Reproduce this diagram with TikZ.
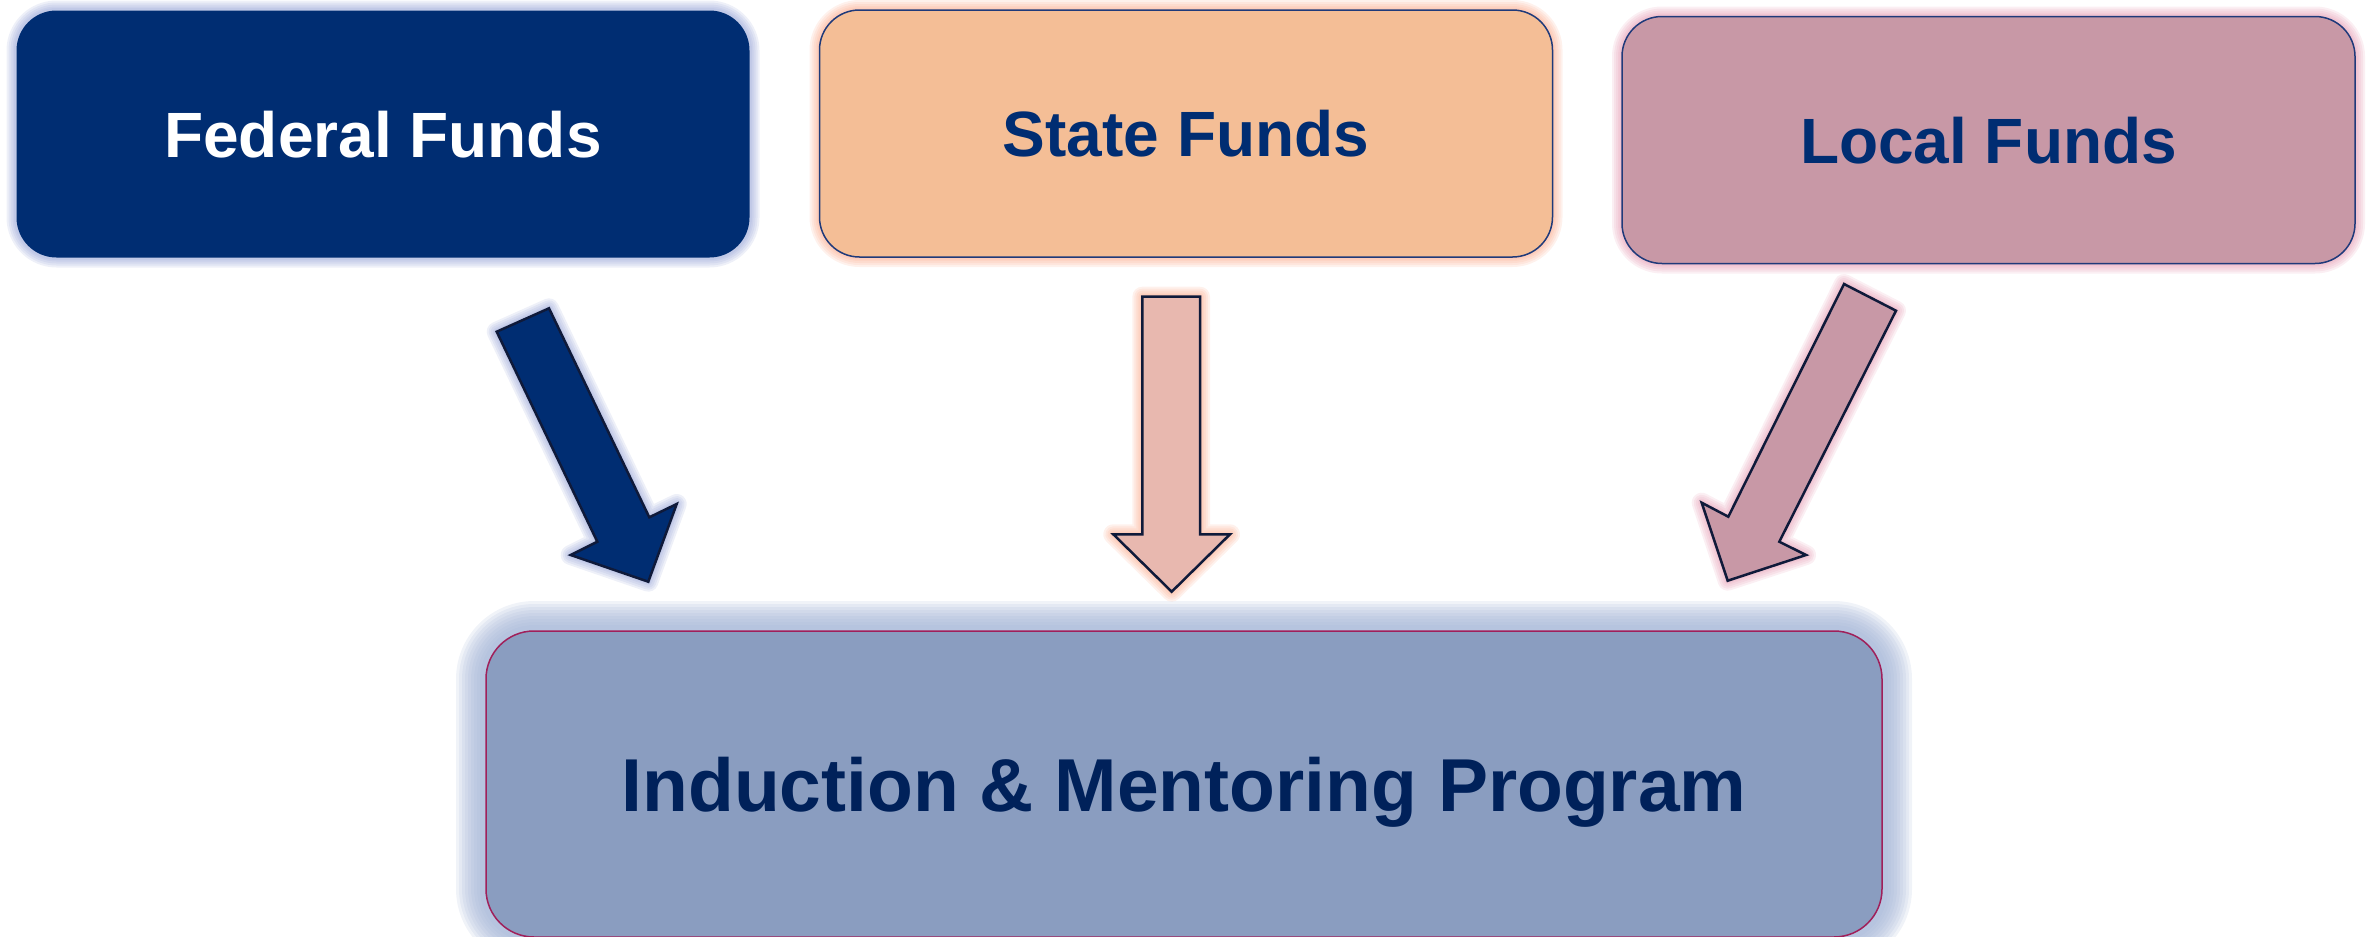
\documentclass[tikz,border=0pt]{standalone}
\usepackage{fontspec}
\setmainfont{Liberation Sans}
\definecolor{navy}{HTML}{002D72}
\definecolor{fedglow}{HTML}{95A2D6}
\definecolor{statefill}{HTML}{F4BE96}
\definecolor{stateglow}{HTML}{FBA98A}
\definecolor{localfill}{HTML}{C898A6}
\definecolor{localglow}{HTML}{E59AB2}
\definecolor{progfill}{HTML}{8A9DC0}
\definecolor{progglow}{HTML}{A3B4D6}
\definecolor{progborder}{HTML}{A0205A}
\definecolor{progtext}{HTML}{00215A}
\definecolor{arrowstate}{HTML}{E8B8AF}
\definecolor{outline}{HTML}{0F1A3A}
\definecolor{boxline}{HTML}{1F3A7A}
\tikzset{
  gl/.style 2 args={preaction={draw=#1, line width=#2, opacity=0.16, line join=round}},
  glow/.style={gl={#1}{20pt}, gl={#1}{16pt}, gl={#1}{12pt}, gl={#1}{8pt}, gl={#1}{5pt}},
  bigglow/.style={gl={#1}{60pt}, gl={#1}{54pt}, gl={#1}{48pt}, gl={#1}{42pt},
                  gl={#1}{36pt}, gl={#1}{30pt}, gl={#1}{24pt}, gl={#1}{18pt}, gl={#1}{12pt}},
  fundbox/.style={rounded corners=40pt, minimum width=733pt, minimum height=247pt,
                  inner sep=0pt, text depth=0pt, font=\fontsize{64}{76}\selectfont\bfseries},
  blockarrow/.style={draw=outline, line width=2.5pt, line join=miter}
}
\begin{document}
\begin{tikzpicture}[x=1pt,y=-1pt]
\useasboundingbox (0,0) rectangle (2367,937);
\clip (0,0) rectangle (2367,937);

% program box
\node[fundbox, bigglow=progglow, fill=progfill, draw=progborder, line width=1.5pt,
      rounded corners=48pt, minimum width=1396pt, minimum height=306pt,
      text=progtext, font=\fontsize{75}{90}\selectfont\bfseries]
  (prog) at (1184,784) {Induction \& Mentoring Program};

% fund boxes
\node[fundbox, glow=fedglow, fill=navy, text=white] (fed) at (383,134) {Federal Funds};
\node[fundbox, glow=stateglow, fill=statefill, draw=boxline, line width=1.5pt, text=navy]
  (state) at (1186,133.5) {State Funds};
\node[fundbox, glow=localglow, fill=localfill, draw=boxline, line width=1.5pt, text=navy]
  (local) at (1988.5,140) {Local Funds};

% block arrows
\draw[blockarrow, glow=fedglow, fill=navy]
  (496.7,331.7) -- (549,308.3) -- (649.3,517.3) -- (676.7,504) -- (648.3,581.7)
  -- (570.7,555) -- (597.3,541.7) -- cycle;
\draw[blockarrow, glow=stateglow, fill=arrowstate]
  (1142.3,296.7) -- (1200,296.7) -- (1200,534.3) -- (1230,534.3) -- (1171.7,591.7)
  -- (1113.3,534.3) -- (1142.3,534.3) -- cycle;
\draw[blockarrow, glow=localglow, fill=localfill]
  (1844,284) -- (1896,310.7) -- (1779.3,541.7) -- (1806,555) -- (1727.7,580.7)
  -- (1701.7,502.7) -- (1728.3,516.7) -- cycle;
\end{tikzpicture}
\end{document}
